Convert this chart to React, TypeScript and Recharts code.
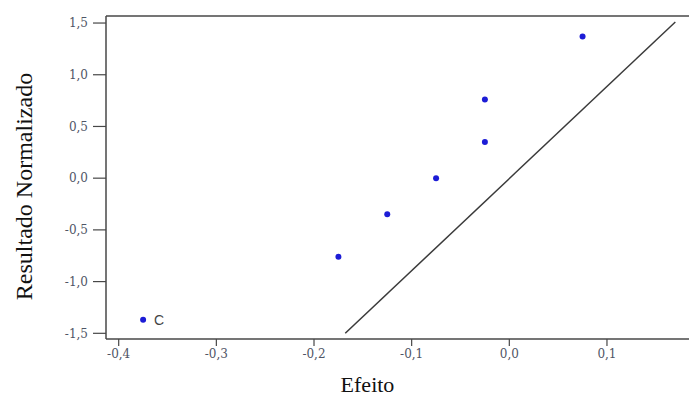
import React from 'react';
import { ScatterChart, Scatter, XAxis, YAxis, ReferenceLine, Label } from 'recharts';

// Normal probability plot of effects
const effects = [-0.375, -0.175, -0.125, -0.075, -0.025, -0.025, 0.075];
const normalScores = [-1.37, -0.76, -0.35, 0.0, 0.35, 0.76, 1.37];
const pointLabels = ['C', '', '', '', '', '', ''];

const lineEffects = [-0.168, 0.17];
const lineScores = [-1.5, 1.51];

const xTicks = [-0.4, -0.3, -0.2, -0.1, 0.0, 0.1];
const yTicks = [-1.5, -1.0, -0.5, 0.0, 0.5, 1.0, 1.5];
const xDomain: [number, number] = [-0.413, 0.184];
const yDomain: [number, number] = [-1.555, 1.568];

const points = effects.map((x, i) => ({ x, y: normalScores[i], label: pointLabels[i] }));
const lineData = lineEffects.map((x, i) => ({ x, y: lineScores[i] }));

const fmt = (v: number) => v.toFixed(1).replace('.', ',');

const AXIS_COLOR = '#474747';
const TICK_STYLE = { fill: '#4f5566', fontSize: 12, fontFamily: 'DejaVu Serif, serif' };

const Dot = (props: any) => {
  const { cx, cy, payload } = props;
  if (cx == null || cy == null) return <g />;
  return (
    <g>
      <circle cx={cx} cy={cy} r={3} fill="#1c1cd6" />
      {payload && payload.label ? (
        <text
          x={cx + 11}
          y={cy}
          dominantBaseline="central"
          fontSize={14}
          fontFamily="Liberation Sans, Arial, sans-serif"
          fill="#444"
        >
          {payload.label}
        </text>
      ) : null}
    </g>
  );
};

const YTitle = (props: any) => {
  const vb = props.viewBox || { x: 0, y: 16, width: 106, height: 323 };
  const x = vb.x + 32;
  const y = vb.y + vb.height / 2 + 9;
  return (
    <text
      x={x}
      y={y}
      transform={`rotate(-90 ${x} ${y})`}
      textAnchor="middle"
      fontSize={24}
      fontFamily="Liberation Serif, Times New Roman, serif"
      fill="#111"
    >
      Resultado Normalizado
    </text>
  );
};

const XTitle = (props: any) => {
  const vb = props.viewBox || { x: 106, y: 339, width: 583, height: 57 };
  const x = vb.x + vb.width / 2 - 30;
  const y = vb.y + 53;
  return (
    <text
      x={x}
      y={y}
      textAnchor="middle"
      fontSize={22}
      fontFamily="Liberation Serif, Times New Roman, serif"
      fill="#111"
    >
      Efeito
    </text>
  );
};

export default function App() {
  return (
    <div style={{ position: 'absolute', left: 0, top: 0, width: 689, height: 396, background: '#fff' }}>
      <ScatterChart width={689} height={396} margin={{ top: 16, right: 0, bottom: 0, left: 0 }}>
        <XAxis
          type="number"
          dataKey="x"
          domain={xDomain}
          ticks={xTicks}
          allowDataOverflow
          tickFormatter={fmt}
          height={57}
          tickSize={7}
          tickMargin={3}
          tick={TICK_STYLE}
          axisLine={{ stroke: AXIS_COLOR, strokeWidth: 1.5 }}
          tickLine={{ stroke: AXIS_COLOR, strokeWidth: 1.2 }}
        >
          <Label content={XTitle} />
        </XAxis>
        <YAxis
          type="number"
          dataKey="y"
          domain={yDomain}
          ticks={yTicks}
          allowDataOverflow
          tickFormatter={fmt}
          width={106}
          tickSize={13}
          tickMargin={5}
          tick={TICK_STYLE}
          axisLine={{ stroke: AXIS_COLOR, strokeWidth: 1.5 }}
          tickLine={{ stroke: AXIS_COLOR, strokeWidth: 1.2 }}
        >
          <Label content={YTitle} />
        </YAxis>
        <ReferenceLine y={yDomain[1]} stroke={AXIS_COLOR} strokeWidth={1.5} />
        <Scatter
          data={lineData}
          line={{ stroke: '#3a3a3a', strokeWidth: 1.5 }}
          shape={() => <g />}
          isAnimationActive={false}
          legendType="none"
        />
        <Scatter data={points} shape={Dot} isAnimationActive={false} />
      </ScatterChart>
    </div>
  );
}
